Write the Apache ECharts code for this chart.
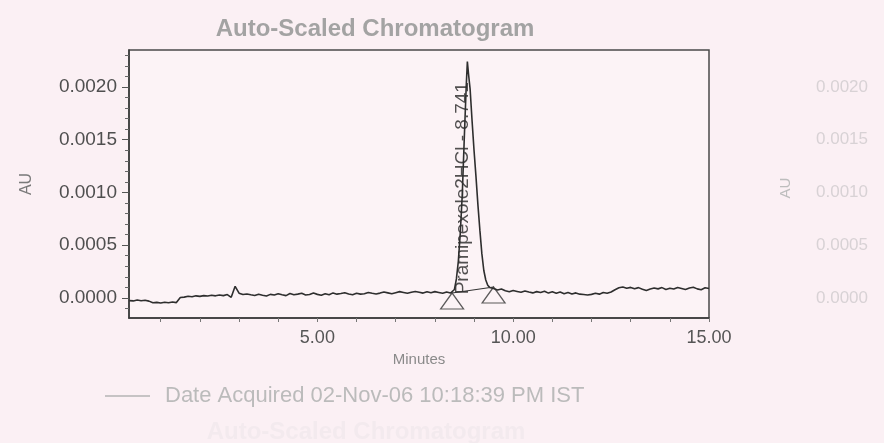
<!DOCTYPE html>
<html>
<head>
<meta charset="utf-8">
<script src="https://cdn.jsdelivr.net/npm/echarts@6/dist/echarts.min.js"></script>
<style>
  html, body { margin: 0; padding: 0; background: #fbf0f4; }
  #chart { width: 884px; height: 443px; }
</style>
</head>
<body>
<div id="chart"></div>
<script>
// retention time (min) and absorbance (AU)
const times = [
  0.2, 0.3, 0.4, 0.5, 0.6, 0.7, 0.8, 0.9, 1.0, 1.1, 1.2, 1.3, 1.4, 1.5, 1.6, 1.7, 1.8, 1.9,
  2.0, 2.1, 2.2, 2.3, 2.4, 2.5, 2.6, 2.7, 2.8, 2.9, 3.0, 3.1, 3.2, 3.3, 3.4, 3.5, 3.6, 3.7, 3.8, 3.9,
  4.0, 4.1, 4.2, 4.3, 4.4, 4.5, 4.6, 4.7, 4.8, 4.9, 5.0, 5.1, 5.2, 5.3, 5.4, 5.5, 5.6, 5.7, 5.8, 5.9,
  6.0, 6.1, 6.2, 6.3, 6.4, 6.5, 6.6, 6.7, 6.8, 6.9, 7.0, 7.1, 7.2, 7.3, 7.4, 7.5, 7.6, 7.7, 7.8, 7.9,
  8.0, 8.1, 8.2, 8.3, 8.4, 8.45, 8.5, 8.55, 8.6, 8.65, 8.7, 8.75, 8.8, 8.83, 8.86, 8.9, 8.95,
  9.0, 9.05, 9.1, 9.15, 9.2, 9.25, 9.3, 9.35, 9.4, 9.45, 9.5, 9.6, 9.7, 9.8, 9.9,
  10.0, 10.1, 10.2, 10.3, 10.4, 10.5, 10.6, 10.7, 10.8, 10.9, 11.0, 11.1, 11.2, 11.3, 11.4, 11.5,
  11.6, 11.7, 11.8, 11.9, 12.0, 12.1, 12.2, 12.3, 12.4, 12.5, 12.6, 12.7, 12.8, 12.9, 13.0, 13.1,
  13.2, 13.3, 13.4, 13.5, 13.6, 13.7, 13.8, 13.9, 14.0, 14.1, 14.2, 14.3, 14.4, 14.5, 14.6, 14.7,
  14.8, 14.9, 15.0
];
const absorbance = [
  -0.000025, -0.000028, -0.000020, -0.000026, -0.000022, -0.000030, -0.000046, -0.000042, -0.000048,
  -0.000040, -0.000045, -0.000038, -0.000044, 0.000005, 0.000008, 0.000016, 0.000012, 0.000020,
  0.000015, 0.000022, 0.000018, 0.000026, 0.000020, 0.000028, 0.000022, 0.000032, 0.000006, 0.000110,
  0.000045, 0.000032, 0.000038, 0.000030, 0.000024, 0.000036, 0.000026, 0.000018, 0.000034, 0.000028,
  0.000040, 0.000030, 0.000022, 0.000042, 0.000030, 0.000036, 0.000044, 0.000028, 0.000032, 0.000046,
  0.000034, 0.000026, 0.000040, 0.000030, 0.000048, 0.000036, 0.000042, 0.000050, 0.000038, 0.000030,
  0.000044, 0.000036, 0.000040, 0.000052, 0.000044, 0.000038, 0.000046, 0.000056, 0.000048, 0.000040,
  0.000050, 0.000060, 0.000052, 0.000044, 0.000054, 0.000062, 0.000054, 0.000046, 0.000058, 0.000050,
  0.000060, 0.000052, 0.000044, 0.000056, 0.000046, 0.000050, 0.000080, 0.000180, 0.000350, 0.000620,
  0.000980, 0.001500, 0.002000, 0.002240, 0.002120, 0.001980, 0.001680,
  0.001400, 0.001150, 0.000880, 0.000640, 0.000420, 0.000260, 0.000170, 0.000120, 0.000100, 0.000092,
  0.000090, 0.000076, 0.000084, 0.000068, 0.000058,
  0.000070, 0.000062, 0.000054, 0.000066, 0.000056, 0.000048, 0.000060, 0.000052, 0.000064, 0.000046,
  0.000058, 0.000044, 0.000056, 0.000040, 0.000052, 0.000038,
  0.000048, 0.000036, 0.000032, 0.000028, 0.000034, 0.000044, 0.000036, 0.000052, 0.000044, 0.000056,
  0.000078, 0.000096, 0.000104, 0.000092, 0.000100, 0.000088,
  0.000098, 0.000082, 0.000070, 0.000084, 0.000094, 0.000086, 0.000098, 0.000080, 0.000092, 0.000084,
  0.000100, 0.000090, 0.000080, 0.000094, 0.000102, 0.000086,
  0.000078, 0.000096, 0.000090
];

// integration marks: peak start / end and the drawn baseline
const peakStartEnd = [[8.44, 0.000047], [9.50, 0.000104]];
const peakName = 'Pramipexole2HCl - 8.741';
const peakLabelAt = [8.70, 0.00104];

const xLabels = [5, 10, 15];
const xTicks = [1, 2, 3, 4, 5, 6, 7, 8, 9, 10, 11, 12, 13, 14, 15];
const yLabels = [0, 0.0005, 0.001, 0.0015, 0.002];
const yMinorTicks = [-0.0001, 0.0001, 0.0002, 0.0003, 0.0004, 0.0006, 0.0007, 0.0008, 0.0009,
  0.0011, 0.0012, 0.0013, 0.0014, 0.0016, 0.0017, 0.0018, 0.0019, 0.0021, 0.0022, 0.0023];

const acquired = 'Date Acquired 02-Nov-06 10:18:39 PM IST';
const font = 'Liberation Sans, Arial, sans-serif';
const yMin = -0.00019, yMax = 0.00235;

const chart = echarts.init(document.getElementById('chart'));
chart.setOption({
  animation: false,
  backgroundColor: '#fbf0f4',
  title: [{
    text: 'Auto-Scaled Chromatogram',
    left: 370, top: 12, textAlign: 'center',
    textStyle: { color: '#a3a3a3', fontSize: 24, fontWeight: 'bold', fontFamily: font }
  }, {
    // faint bleed-through from the next page
    text: 'Auto-Scaled Chromatogram',
    left: 361, top: 415, textAlign: 'center',
    textStyle: { color: '#f3eaee', fontSize: 24, fontWeight: 'bold', fontFamily: font }
  }],
  graphic: [{
    // ghost axis title showing through from the reverse side
    type: 'text', x: 786, y: 188, rotation: Math.PI / 2,
    style: {
      text: 'AU', fill: '#bdbdbd', fontSize: 15, fontFamily: font,
      align: 'center', verticalAlign: 'middle'
    }
  }],
  legend: {
    left: 100, top: 380,
    itemWidth: 45, itemHeight: 1.5, itemGap: 0,
    data: [{ name: acquired, icon: 'rect', itemStyle: { color: '#b5b5b5' } }],
    textStyle: { color: '#bbbbbb', fontSize: 22, fontFamily: font, padding: [0, 0, 0, 10] }
  },
  grid: {
    left: 129, right: 175, top: 50, bottom: 125,
    outerBoundsMode: 'none',
    show: true, borderColor: '#4a4a4a', borderWidth: 1.5, backgroundColor: '#fcf3f6'
  },
  xAxis: {
    type: 'value', min: 0.19, max: 15,
    name: 'Minutes', nameLocation: 'middle', nameGap: 33,
    nameTextStyle: { color: '#8a8a8a', fontSize: 15, fontFamily: font },
    splitLine: { show: false },
    axisLine: { onZero: false, lineStyle: { color: '#3a3a3a', width: 1.5 } },
    axisTick: { customValues: xTicks, length: 4, lineStyle: { color: '#777' } },
    axisLabel: {
      customValues: xLabels, margin: 11, color: '#555', fontSize: 18, fontFamily: font,
      formatter: v => v.toFixed(2)
    }
  },
  yAxis: [{
    type: 'value', min: yMin, max: yMax,
    name: 'AU', nameLocation: 'middle', nameGap: 94, nameRotate: 90,
    nameTextStyle: { color: '#7a7a7a', fontSize: 16, fontFamily: font },
    splitLine: { show: false },
    axisLine: { show: true, onZero: false, lineStyle: { color: '#3a3a3a', width: 1.5 } },
    axisTick: { customValues: yLabels, length: 7, lineStyle: { color: '#555' } },
    axisLabel: {
      customValues: yLabels, margin: 12, color: '#4f4f4f', fontSize: 19, fontFamily: font,
      formatter: v => v.toFixed(4)
    }
  }, {
    type: 'value', min: yMin, max: yMax, position: 'left',
    splitLine: { show: false }, axisLine: { show: false, onZero: false },
    axisTick: { customValues: yMinorTicks, length: 4, lineStyle: { color: '#666' } },
    axisLabel: { show: false }
  }, {
    // ghost axis showing through from the reverse side
    type: 'value', min: yMin, max: yMax, position: 'right', offset: 99,
    splitLine: { show: false }, axisLine: { show: false, onZero: false }, axisTick: { show: false },
    axisLabel: {
      customValues: yLabels, margin: 8, color: '#d8d2d5', fontSize: 17, fontFamily: font,
      formatter: v => v.toFixed(4)
    }
  }],
  series: [{
    name: acquired,
    type: 'line',
    data: times.map((t, i) => [t, absorbance[i]]),
    showSymbol: false,
    lineStyle: { color: '#2e2e2e', width: 1.6 }
  }, {
    name: 'baseline',
    type: 'line',
    data: peakStartEnd,
    showSymbol: false,
    lineStyle: { color: '#333', width: 1.1 }
  }, {
    name: 'marks',
    type: 'scatter',
    data: peakStartEnd,
    symbol: 'triangle',
    symbolSize: [23, 16],
    symbolOffset: [0, '50%'],
    itemStyle: { color: 'rgba(0,0,0,0)', borderColor: '#333', borderWidth: 1.2 }
  }, {
    name: 'peak',
    type: 'scatter',
    data: [peakLabelAt],
    symbolSize: 0,
    label: {
      show: true, position: 'inside', rotate: 90,
      formatter: peakName, color: '#262626', fontSize: 19, fontFamily: font
    }
  }]
});
</script>
</body>
</html>
